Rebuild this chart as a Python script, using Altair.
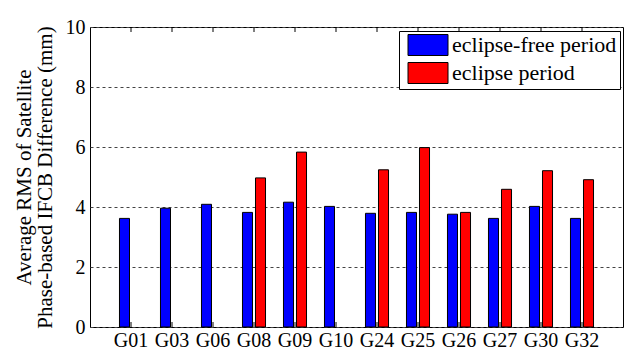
import altair as alt
import pandas as pd

# RMS of satellite phase-based IFCB difference (mm)
sats = ["G01", "G03", "G06", "G08", "G09", "G10", "G24", "G25", "G26", "G27", "G30", "G32"]
eclipse_free = [3.62, 3.96, 4.09, 3.82, 4.16, 4.02, 3.79, 3.82, 3.76, 3.62, 4.02, 3.62]
eclipse = [None, None, None, 4.97, 5.83, None, 5.24, 5.98, 3.82, 4.59, 5.21, 4.91]
periods = ["eclipse-free period", "eclipse period"]
colors = ["#0000FF", "#FF0000"]
y_ticks = [0, 2, 4, 6, 8, 10]

rows = []
for s, a, b in zip(sats, eclipse_free, eclipse):
    rows.append({"sat": s, "period": periods[0], "rms": a})
    if b is not None:
        rows.append({"sat": s, "period": periods[1], "rms": b})
df = pd.DataFrame(rows)
ticks_df = pd.DataFrame({"sat": sats})

FONT = "Liberation Serif"
W, H = 533, 300

x_enc = alt.X(
    "sat:N",
    sort=sats,
    scale=alt.Scale(paddingInner=0, paddingOuter=0.5),
    axis=alt.Axis(title=None, labelAngle=0, labelFontSize=20, labelFont=FONT,
                  labelColor="black", labelPadding=3, ticks=False, domain=False,
                  labelOverlap=False),
)

bars = alt.Chart(df).mark_bar(stroke="black", strokeWidth=1).encode(
    x=x_enc,
    xOffset=alt.XOffset("period:N", sort=periods,
                        scale=alt.Scale(domain=periods, paddingInner=0.23, paddingOuter=0.69)),
    y=alt.Y(
        "rms:Q",
        scale=alt.Scale(domain=[0, 10], nice=False),
        axis=alt.Axis(
            title=["Average RMS of Satellite", "Phase-based IFCB Difference (mm)"],
            titleFont=FONT, titleFontSize=21, titleFontWeight="normal", titleColor="black",
            titleLineHeight=21, titleX=-56, titleY=H / 2, titleAngle=-90, titleBaseline="bottom",
            titleAlign="center",
            values=y_ticks, labelFont=FONT, labelFontSize=20, labelColor="black",
            labelPadding=5, ticks=False, domain=False,
            grid=True, gridDash=[3, 3], gridColor="#444444", gridWidth=1,
        ),
    ),
    color=alt.Color(
        "period:N",
        sort=periods,
        scale=alt.Scale(domain=periods, range=colors),
        legend=alt.Legend(
            title=None, orient="none", legendX=309, legendY=4,
            # wide swatch drawn from a small symbol size so rows stay compact
            symbolType="M-0.5,-1.05H3.5V1.05H-0.5Z", symbolSize=400,
            symbolStrokeColor="black", symbolStrokeWidth=1, symbolOpacity=1,
            labelFont=FONT, labelFontSize=22, labelColor="black", labelOffset=28,
            labelLimit=400,
            rowPadding=2, padding=3, strokeColor="black", fillColor="white",
        ),
    ),
)

top_ticks = alt.Chart(ticks_df).mark_rule(color="black", strokeWidth=1).encode(
    x=alt.X("sat:N", sort=sats), y=alt.value(0), y2=alt.value(5)
)
bottom_ticks = alt.Chart(ticks_df).mark_rule(color="black", strokeWidth=1).encode(
    x=alt.X("sat:N", sort=sats), y=alt.value(H - 5), y2=alt.value(H)
)

chart = (
    alt.layer(bars, top_ticks, bottom_ticks)
    .properties(
        width=W, height=H,
        autosize=alt.AutoSizeParams(type="none"),
        padding={"left": 90, "top": 27, "right": 1, "bottom": 27},
        background="white",
    )
    .configure_view(stroke="black", strokeWidth=1)
)

chart.save("out.html", embed_options={"renderer": "svg", "actions": False})
